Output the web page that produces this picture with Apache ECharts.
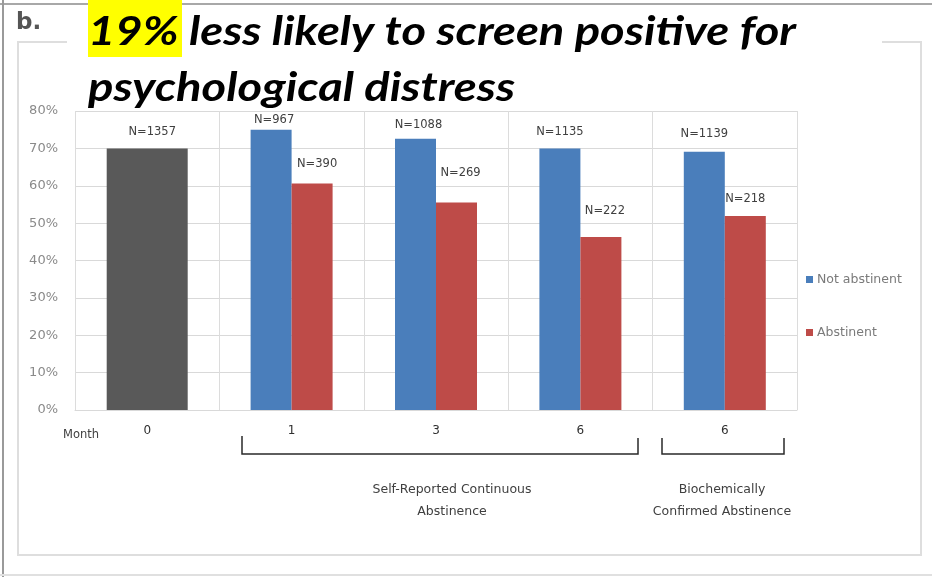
<!DOCTYPE html>
<html>
<head>
<meta charset="utf-8">
<script src="https://cdn.jsdelivr.net/npm/echarts@6/dist/echarts.min.js"></script>
<style>
  html, body { margin: 0; padding: 0; background: #fff; }
  #chart { width: 932px; height: 577px; }
</style>
</head>
<body>
<div id="chart"></div>
<script>
// Months after quit attempt; the last group is the biochemically confirmed one
const categories = ['0', '1', '3', '6', '6'];
// Percent screening positive for psychological distress
const baselineValues = [70, '-', '-', '-', '-'];
const notAbstinentValues = ['-', 75, 72.6, 70, 69.1];
const abstinentValues = ['-', 60.6, 55.5, 46.3, 51.9];
// Sample sizes shown above the bars
const baselineN = [1357];
const notAbstinentN = [967, 1088, 1135, 1139];
const abstinentN = [390, 269, 222, 218];

// Label placement tweaks (pixels above bar top, horizontal nudge)
const baseLift = [10];
const blueLift = [4, 8, 10, 12];
const redLift = [13, 24, 20, 11];
const blueShift = [3, 3, 0, 0];
const redShift = [5, 4, 4, 0];

const UI_FONT = 'DejaVu Sans';
const HEAD_FONT = 'Lato';
const HEAD_STRETCH = 1.15;

const labelFont = { fontSize: 11.5, color: '#404040', fontFamily: UI_FONT };

function nLabels(values, nList, lift, shift) {
  let k = 0;
  return values.map(function (v) {
    if (v === '-') return v;
    const i = k++;
    return {
      value: v,
      label: {
        show: true, position: 'top',
        distance: lift[i], offset: [shift[i], 0],
        formatter: 'N=' + nList[i]
      }
    };
  });
}

const chart = echarts.init(document.getElementById('chart'));
chart.setOption({
  animation: false,
  textStyle: { fontFamily: UI_FONT },
  grid: { left: 75, right: 135, top: 111, bottom: 167 },
  legend: {
    orient: 'vertical', left: 801, top: 268,
    itemWidth: 7, itemHeight: 7, itemGap: 40,
    icon: 'rect',
    data: ['Not abstinent', 'Abstinent'],
    textStyle: { fontSize: 12.5, color: '#7a7a7a', fontFamily: UI_FONT, padding: [0, 0, 0, -1] }
  },
  xAxis: [{
    type: 'category', data: categories,
    axisLine: { lineStyle: { color: '#d9d9d9', width: 1 } },
    axisTick: { show: false },
    axisLabel: { margin: 15, fontSize: 12, color: '#303030', fontFamily: UI_FONT },
    splitLine: { show: true, lineStyle: { color: '#dcdcdc', width: 1 } }
  }, {
    type: 'category', data: categories, show: false
  }],
  yAxis: {
    type: 'value', min: 0, max: 80, interval: 10,
    axisLabel: { formatter: '{value}%', fontSize: 13, color: '#8a8a8a', margin: 17, fontFamily: UI_FONT },
    axisLine: { show: false }, axisTick: { show: false },
    splitLine: { lineStyle: { color: '#d9d9d9', width: 1 } }
  },
  series: [{
    name: 'Baseline', type: 'bar', xAxisIndex: 1,
    data: nLabels(baselineValues, baselineN, baseLift, [5]),
    barWidth: 81,
    itemStyle: { color: '#595959' },
    label: labelFont
  }, {
    name: 'Not abstinent', type: 'bar', xAxisIndex: 0,
    data: nLabels(notAbstinentValues, notAbstinentN, blueLift, blueShift),
    barWidth: 41, barGap: '0%',
    itemStyle: { color: '#4a7ebb' },
    label: labelFont
  }, {
    name: 'Abstinent', type: 'bar', xAxisIndex: 0,
    data: nLabels(abstinentValues, abstinentN, redLift, redShift),
    barWidth: 41, barGap: '0%',
    itemStyle: { color: '#be4b48' },
    label: labelFont
  }],
  graphic: [
    // outer frame
    { type: 'line', shape: { x1: 0, y1: 4, x2: 932, y2: 4 }, style: { stroke: '#a8a8a8', lineWidth: 2 } },
    { type: 'line', shape: { x1: 3, y1: 0, x2: 3, y2: 577 }, style: { stroke: '#9a9a9a', lineWidth: 2 } },
    { type: 'line', shape: { x1: 0, y1: 575, x2: 932, y2: 575 }, style: { stroke: '#e0e0e0', lineWidth: 2 } },
    // inner chart border
    { type: 'polyline', shape: { points: [[67, 42], [18, 42], [18, 555], [921, 555], [921, 42], [882, 42]] },
      style: { stroke: '#dedede', lineWidth: 2, fill: null } },
    // panel letter
    { type: 'text', left: 16, top: 12, style: { text: 'b.', fontSize: 23, fontWeight: 'bold', fill: '#555555', fontFamily: UI_FONT } },
    // headline
    { type: 'rect', shape: { x: 88, y: 0, width: 94, height: 57 }, style: { fill: '#ffff00' } },
    { type: 'text', x: 88, y: 32, scaleX: HEAD_STRETCH,
      style: { text: '19% less likely to screen positive for', fontSize: 41, fontWeight: 'bold', fontStyle: 'italic',
               fill: '#000', fontFamily: HEAD_FONT, verticalAlign: 'middle' } },
    { type: 'text', x: 88, y: 88, scaleX: HEAD_STRETCH,
      style: { text: 'psychological distress', fontSize: 41, fontWeight: 'bold', fontStyle: 'italic',
               fill: '#000', fontFamily: HEAD_FONT, verticalAlign: 'middle' } },
    // axis caption
    { type: 'text', x: 63, y: 435, style: { text: 'Month', fontSize: 11.5, fill: '#404040', fontFamily: UI_FONT, verticalAlign: 'middle' } },
    // group brackets
    { type: 'polyline', shape: { points: [[242, 436], [242, 454], [638, 454], [638, 438]] },
      style: { stroke: '#2a2a2a', lineWidth: 1.5, fill: null } },
    { type: 'polyline', shape: { points: [[662, 438], [662, 454], [784, 454], [784, 438]] },
      style: { stroke: '#2a2a2a', lineWidth: 1.5, fill: null } },
    { type: 'text', x: 452, y: 501,
      style: { text: 'Self-Reported Continuous\nAbstinence', fontSize: 12.5, lineHeight: 22, align: 'center', verticalAlign: 'middle',
               fill: '#404040', fontFamily: UI_FONT } },
    { type: 'text', x: 722, y: 501,
      style: { text: 'Biochemically\nConfirmed Abstinence', fontSize: 12.5, lineHeight: 22, align: 'center', verticalAlign: 'middle',
               fill: '#404040', fontFamily: UI_FONT } }
  ]
});
</script>
</body>
</html>
